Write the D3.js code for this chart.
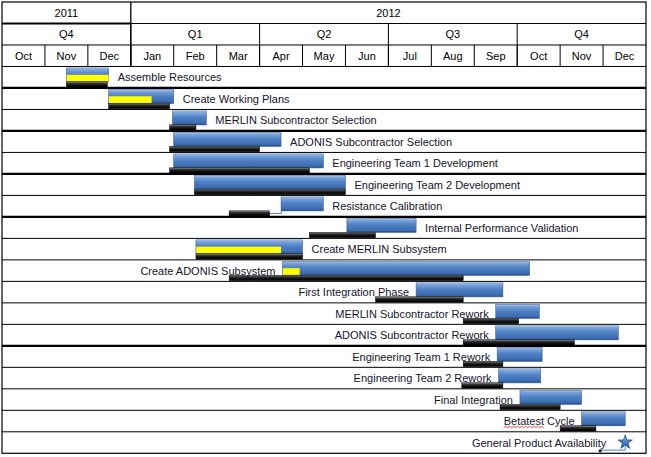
<!DOCTYPE html>
<html>
<head>
<meta charset="utf-8">
<script src="https://cdn.jsdelivr.net/npm/d3@7/dist/d3.min.js"></script>
<style>
  html, body { margin: 0; padding: 0; background: #fff; }
  svg { display: block; }
  text { font-family: "Liberation Sans", Arial, sans-serif; font-size: 11px; }
</style>
</head>
<body>
<svg id="chart" width="651" height="457"></svg>
<script>
// ---------- DATA ----------
const years = ["2011", "2012"];
const yearMonths = [3, 12];
const quarters = ["Q4", "Q1", "Q2", "Q3", "Q4"];
const months = ["Oct", "Nov", "Dec", "Jan", "Feb", "Mar", "Apr", "May", "Jun", "Jul", "Aug", "Sep", "Oct", "Nov", "Dec"];

const tasks = [
  "Assemble Resources",
  "Create Working Plans",
  "MERLIN Subcontractor Selection",
  "ADONIS Subcontractor Selection",
  "Engineering Team 1 Development",
  "Engineering Team 2 Development",
  "Resistance Calibration",
  "Internal Performance Validation",
  "Create MERLIN Subsystem",
  "Create ADONIS Subsystem",
  "First Integration Phase",
  "MERLIN Subcontractor Rework",
  "ADONIS Subcontractor Rework",
  "Engineering Team 1 Rework",
  "Engineering Team 2 Rework",
  "Final Integration",
  "Betatest Cycle",
  "General Product Availability"
];
// current schedule (blue)
const planStart = ["2011-11-16","2011-12-16","2012-01-31","2012-02-01","2012-02-01","2012-02-15","2012-04-16","2012-06-02","2012-02-16","2012-04-17","2012-07-21","2012-09-16","2012-09-16","2012-09-17","2012-09-18","2012-10-03","2012-11-16","2012-12-17"];
const planEnd   = ["2011-12-16","2012-02-01","2012-02-23","2012-04-16","2012-05-16","2012-06-01","2012-05-16","2012-07-21","2012-05-01","2012-10-10","2012-09-21","2012-10-17","2012-12-12","2012-10-19","2012-10-18","2012-11-16","2012-12-17","2012-12-17"];
// baseline (black)
const baseStart = ["2011-11-16","2011-12-16","2012-01-29","2012-01-29","2012-01-29","2012-02-15","2012-03-10","2012-05-06","2012-02-16","2012-03-10","2012-06-22","2012-08-24","2012-08-24","2012-08-24","2012-08-23","2012-09-19","2012-11-01","2012-11-29"];
const baseEnd   = ["2011-12-15","2012-01-29","2012-02-16","2012-04-01","2012-05-06","2012-06-01","2012-04-08","2012-06-22","2012-05-01","2012-08-24","2012-08-24","2012-10-02","2012-11-11","2012-09-21","2012-09-21","2012-11-01","2012-11-26","2012-11-29"];
// progress (yellow), null = none
const progressEnd = ["2011-12-16","2012-01-16",null,null,null,null,null,null,"2012-04-16","2012-04-29",null,null,null,null,null,null,null,null];
const labelSide = ["right","right","right","right","right","right","right","right","right","left","left","left","left","left","left","left","left","left"];
const misspelled = [null,null,null,null,null,null,null,null,null,null,null,null,null,null,null,null,"Betatest",null];

// ---------- LAYOUT ----------
const padL = 2, padR = 646, padT = 2, padB = 453.3;

const svg = d3.select("#chart");
const defs = svg.append("defs");

function grad(id, stops) {
  const gr = defs.append("linearGradient").attr("id", id).attr("x1", 0).attr("y1", 0).attr("x2", 0).attr("y2", 1);
  stops.forEach(s => gr.append("stop").attr("offset", s[0]).attr("stop-color", s[1]));
}
grad("blueG", [[0, "#c5d8f0"], [0.12, "#7ea6db"], [0.45, "#4f81c4"], [0.85, "#3d6db2"], [1, "#1f4a80"]]);
grad("blackG", [[0, "#a0a0a0"], [0.25, "#3c3c3c"], [0.6, "#111"], [1, "#000"]]);
grad("starG", [[0, "#9dbde8"], [0.5, "#4f81c4"], [1, "#2a5799"]]);

function monthPos(s) {
  const [yy, m, d] = s.split("-").map(Number);
  const dim = new Date(yy, m, 0).getDate();
  return (yy - 2011) * 12 + (m - 1) - 9 + (d - 1) / dim;
}
const x = d3.scaleLinear().domain([0, months.length]).range([padL, padR]);
const y = d3.scaleLinear().domain([0, 3 + tasks.length]).range([padT, padB]);

// ---------- HEADER ----------
const hdr = svg.append("g");
let acc = 0;
years.forEach((yr, i) => {
  const x0 = x(acc), x1 = x(acc + yearMonths[i]);
  hdr.append("text").attr("x", (x0 + x1) / 2).attr("y", y(0.5) + 4).attr("text-anchor", "middle").attr("fill", "#000").text(yr);
  if (i > 0) hdr.append("line").attr("x1", x0).attr("x2", x0).attr("y1", y(0)).attr("y2", y(3)).attr("stroke", "#000").attr("stroke-width", 1.3);
  hdr.append("line").attr("x1", x0).attr("x2", x1).attr("y1", y(1)).attr("y2", y(1))
    .attr("stroke", "#000").attr("stroke-width", i === 0 ? 2.2 : 1);
  acc += yearMonths[i];
});
quarters.forEach((q, i) => {
  const x0 = x(i * 3), x1 = x(i * 3 + 3);
  hdr.append("text").attr("x", (x0 + x1) / 2).attr("y", y(1.5) + 4).attr("text-anchor", "middle").attr("fill", "#000").text(q);
  if (i > 0) hdr.append("line").attr("x1", x0).attr("x2", x0).attr("y1", y(1)).attr("y2", y(3)).attr("stroke", "#000").attr("stroke-width", 1);
});
hdr.append("line").attr("x1", padL).attr("x2", padR).attr("y1", y(2)).attr("y2", y(2)).attr("stroke", "#000");
months.forEach((m, i) => {
  hdr.append("text").attr("x", (x(i) + x(i + 1)) / 2).attr("y", y(2.5) + 4).attr("text-anchor", "middle").attr("fill", "#000").text(m);
  if (i > 0) hdr.append("line").attr("x1", x(i)).attr("x2", x(i)).attr("y1", y(2)).attr("y2", y(3)).attr("stroke", "#000");
});
hdr.append("line").attr("x1", padL).attr("x2", padR).attr("y1", y(3)).attr("y2", y(3)).attr("stroke", "#000");

// row separators
const thickAfter = new Set([0, 2, 4, 6, 12]);
tasks.forEach((t, i) => {
  if (i === tasks.length - 1) return;
  svg.append("line").attr("x1", padL).attr("x2", padR).attr("y1", y(4 + i)).attr("y2", y(4 + i))
    .attr("stroke", "#000").attr("stroke-width", thickAfter.has(i) ? 2.2 : 1);
});
svg.append("rect").attr("x", padL).attr("y", padT).attr("width", padR - padL).attr("height", padB - padT)
  .attr("fill", "none").attr("stroke", "#000").attr("stroke-width", 1.2);

// ---------- BARS ----------
const g = svg.append("g");
tasks.forEach((name, i) => {
  const rt = y(3 + i);
  const ps = x(monthPos(planStart[i])), pe = x(monthPos(planEnd[i]));
  const bs = x(monthPos(baseStart[i])), be = x(monthPos(baseEnd[i]));
  const milestone = planStart[i] === planEnd[i];
  let labelRightEdge = Math.max(pe, be);
  let labelLeftEdge = ps;

  if (!milestone) {
    if (be < ps) {
      g.append("path").attr("d", `M${be},${rt + 18}H${ps + 0.5}V${rt + 15}`)
        .attr("fill", "none").attr("stroke", "#4f81bd").attr("stroke-width", 1);
    }
    g.append("rect").attr("x", ps).attr("y", rt + 1.5).attr("width", pe - ps).attr("height", 14)
      .attr("fill", "url(#blueG)").attr("stroke", "#3a659f").attr("stroke-width", 0.6);
    if (progressEnd[i]) {
      const pr = x(monthPos(progressEnd[i]));
      g.append("rect").attr("x", ps + 0.3).attr("y", rt + 8.3).attr("width", pr - ps - 0.3).attr("height", 6.7).attr("fill", "#ffff00");
    }
    g.append("rect").attr("x", bs).attr("y", rt + 15.4).attr("width", be - bs).attr("height", 5.4)
      .attr("fill", "url(#blackG)").attr("stroke", "#000").attr("stroke-width", 0.5);
  } else {
    const cy = rt + 9.5;
    if (be < ps) {
      g.append("path").attr("d", `M${be},${rt + 18.3}H${ps}V${cy + 5}`)
        .attr("fill", "none").attr("stroke", "#4f81bd").attr("stroke-width", 1);
    }
    g.append("path").attr("d", d3.symbol(d3.symbolStar, 62)())
      .attr("transform", `translate(${ps},${cy + 1})`)
      .attr("fill", "url(#starG)").attr("stroke", "#1f4a80").attr("stroke-width", 0.8);
    g.append("path").attr("d", d3.symbol(d3.symbolStar, 8)())
      .attr("transform", `translate(${bs},${rt + 19})`).attr("fill", "#000");
    labelLeftEdge = ps - 12;
  }

  const side = labelSide[i];
  const t = g.append("text")
    .attr("x", side === "right" ? labelRightEdge + 9 : labelLeftEdge - 7)
    .attr("y", rt + 14.8)
    .attr("text-anchor", side === "right" ? "start" : "end")
    .attr("fill", "#14142e")
    .text(name);

  if (misspelled[i]) {
    const node = t.node();
    const idx = name.indexOf(misspelled[i]);
    const start = node.getStartPositionOfChar(idx).x;
    const end = node.getEndPositionOfChar(idx + misspelled[i].length - 1).x;
    let d = `M${start},${rt + 17}`;
    let up = true;
    for (let xx = start + 2; xx <= end; xx += 2) { d += `L${xx},${rt + (up ? 16 : 17.3)}`; up = !up; }
    g.append("path").attr("d", d).attr("fill", "none").attr("stroke", "#e02020").attr("stroke-width", 0.8);
  }
});
</script>
</body>
</html>
